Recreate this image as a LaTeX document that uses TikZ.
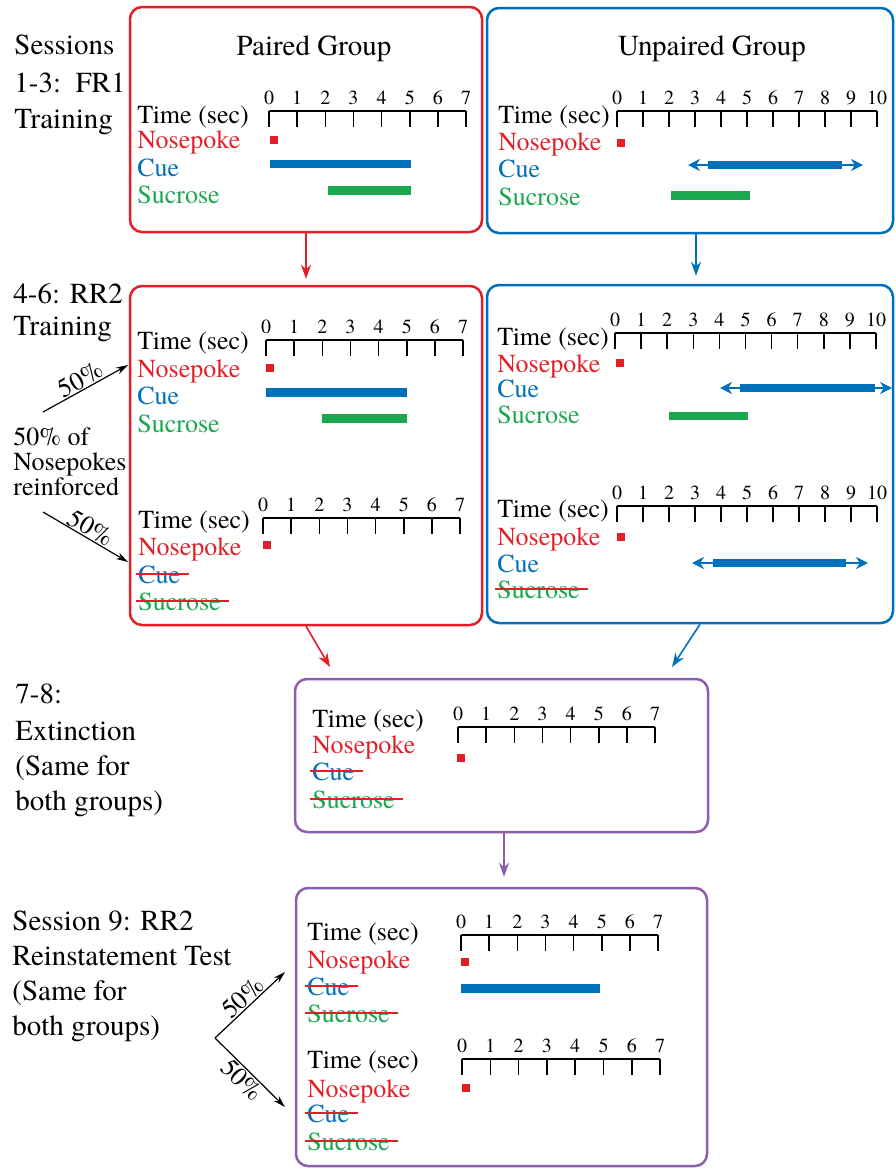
\documentclass[tikz,border=0pt]{standalone}
\usepackage{fontspec}
\IfFontExistsTF{texgyretermes-regular.otf}
  {\setmainfont{texgyretermes-regular.otf}}
  {\setmainfont{Liberation Serif}}
\usetikzlibrary{arrows.meta}

\definecolor{pokered}{RGB}{227,30,38}
\definecolor{cueblue}{RGB}{0,112,186}
\definecolor{sucgreen}{RGB}{25,168,78}
\definecolor{extpurple}{RGB}{142,94,172}

\begin{document}
\begin{tikzpicture}[
        x=0.5pt,
        y=-0.5pt,
        >={Stealth[length=7pt,width=5pt]},
        stage/.style={draw, line width=1.25pt, rounded corners=6pt, inner sep=0pt},
        head/.style={font=\fontsize{14.5}{17}\selectfont, inner sep=0pt, anchor=base west},
        lab/.style={font=\fontsize{13}{15}\selectfont, inner sep=0pt, anchor=base west},
        tick/.style={font=\fontsize{10}{12}\selectfont, inner sep=0pt, anchor=base},
        pct/.style={font=\fontsize{13}{15}\selectfont, inner sep=0.5pt},
        axisline/.style={line width=0.75pt},
        poke/.style={fill=pokered, minimum size=4pt, inner sep=0pt},
        bar/.style={line width=4.25pt},
        cueline/.style={line width=1pt, cueblue, {Stealth[length=6pt,width=6pt]}-{Stealth[length=6pt,width=6pt]}},
        strike/.style={draw=pokered, line width=0.7pt},
        flow/.style={->, line width=0.8pt},
        split/.style={->, line width=0.6pt, >={Stealth[length=6pt,width=3.5pt]}}
    ]
        \useasboundingbox (0,0) rectangle (895,1168);

        % stage boxes
        \node[stage, draw=pokered, minimum width=176pt, minimum height=112.5pt] (pairfr) at (306,119.5) {};
        \node[stage, draw=cueblue, minimum width=203pt, minimum height=112.5pt] (unpfr) at (690,120.5) {};
        \node[stage, draw=pokered, minimum width=176pt, minimum height=169.5pt] (pairrr) at (306,455.5) {};
        \node[stage, draw=cueblue, minimum width=203pt, minimum height=169pt] (unprr) at (690,454) {};
        \node[stage, draw=extpurple, minimum width=206.5pt, minimum height=76.5pt] (ext) at (501.5,755.5) {};
        \node[stage, draw=extpurple, minimum width=205.5pt, minimum height=139pt] (rein) at (501.5,1027) {};

        \node[head, anchor=base] (pairhd) at (314,55) {Paired Group};
        \node[head, anchor=base] (unphd) at (712,55) {Unpaired Group};

        % session texts on the left
        \node[head] (sess) at (14,54) {Sessions};
        \node[head] (fr1a) at (14,92) {1-3:\ \ FR1};
        \node[head] (fr1b) at (14,128) {Training};
        \node[head] (rr2a) at (13,303) {4-6: RR2};
        \node[head] (rr2b) at (13,335) {Training};
        \node[lab] (half1) at (13,445) {50\% of};
        \node[lab] (half2) at (13,470) {Nosepokes};
        \node[lab] (half3) at (13,495) {reinforced};
        \node[head] (ext1) at (15,703) {7-8:};
        \node[head] (ext2) at (15,740) {Extinction};
        \node[head] (ext3) at (15,775) {(Same for};
        \node[head] (ext4) at (15,810) {both groups)};
        \node[head] (rein1) at (12,930) {Session 9: RR2};
        \node[head] (rein2) at (12,965) {Reinstatement Test};
        \node[head] (rein3) at (12,1000) {(Same for};
        \node[head] (rein4) at (12,1035) {both groups)};

        % time axes
        \foreach \ax/\xo/\yo/\n/\dx in {pa/269/111/7/28.15, ua/617/111/10/26, pb/266/340/7/28.15,
                pc/263/518/7/28.15, ub/615/333/10/26.1, uc/617/506/10/26,
                ea/458/727/7/28.15, ra/461/935/7/28.15, rb/462/1059/7/28.3}{
            \draw[axisline] (\xo,\yo) -- ({\xo+\n*\dx},\yo);
            \foreach \k in {0,...,\n}{
                \draw[axisline] ({\xo+\k*\dx},\yo) -- ({\xo+\k*\dx},\yo+16);
                \node[tick] (\ax-\k) at ({\xo+\k*\dx},\yo-7) {\k};
            }
        }

        % row labels
        \foreach \tl/\lx/\ya/\yb/\yc/\yd in {pa/137/123/148/176/203, ua/498/123/150/177/205,
                pb/137/349/377/404/432, pc/138/528/555/583/610, ub/497/345/372/397/423,
                uc/497/517/545/572/598, ea/312/727/753/780/808, ra/307/940/968/995/1022,
                rb/307/1068/1097/1122/1150}{
            \node[lab] (\tl-time) at (\lx,\ya) {Time (sec)};
            \node[lab, text=pokered] (\tl-poke) at (\lx,\yb) {Nosepoke};
            \node[lab, text=cueblue] (\tl-cue) at (\lx,\yc) {Cue};
            \node[lab, text=sucgreen] (\tl-suc) at (\lx,\yd) {Sucrose};
        }
        \foreach \w in {pc-cue, pc-suc, uc-suc, ea-cue, ea-suc, ra-cue, ra-suc, rb-cue, rb-suc}
            \draw[strike] ([xshift=-1pt,yshift=4.5pt]\w.base west) -- ([xshift=4pt,yshift=4.5pt]\w.base east);

        % nosepokes
        \node[poke] (pa-sq) at (273.5,139.5) {};
        \node[poke] (ua-sq) at (621,142.5) {};
        \node[poke] (pb-sq) at (269.5,367.5) {};
        \node[poke] (pc-sq) at (266.5,545) {};
        \node[poke] (ub-sq) at (619.5,362.5) {};
        \node[poke] (uc-sq) at (621,537) {};
        \node[poke] (ea-sq) at (461,757.5) {};
        \node[poke] (ra-sq) at (465,962) {};
        \node[poke] (rb-sq) at (465.5,1088) {};

        % cue and sucrose periods
        \draw[bar, cueblue] (270,164) -- (411,164);
        \draw[bar, sucgreen] (328,190.5) -- (411,190.5);
        \draw[cueline] (688,165) -- (863,165);
        \draw[bar, cueblue] (708,165) -- (842,165);
        \draw[bar, sucgreen] (671,195.5) -- (750,195.5);
        \draw[bar, cueblue] (266,392.5) -- (407,392.5);
        \draw[bar, sucgreen] (322,418.5) -- (407,418.5);
        \draw[cueline] (720,388) -- (892,388);
        \draw[bar, cueblue] (740,388) -- (875,388);
        \draw[bar, sucgreen] (669,416) -- (748,416);
        \draw[cueline] (692,563) -- (868,563);
        \draw[bar, cueblue] (713,563) -- (846,563);
        \draw[bar, cueblue] (461,988.5) -- (600,988.5);

        % flow between stages
        \coordinate (extred) at (330,667);
        \coordinate (extblue) at (672,667);
        \draw[flow, pokered, shorten >=3pt] (pairfr.south) -- (pairrr.north);
        \draw[flow, cueblue, shorten >=4pt] ([xshift=3pt]unpfr.south) -- ([xshift=3pt]unprr.north);
        \draw[flow, pokered] (pairrr.south) -- (extred);
        \draw[flow, cueblue] ([xshift=5pt]unprr.south) -- (extblue);
        \draw[flow, extpurple, shorten >=5pt] ([xshift=1.25pt]ext.south) -- ([xshift=1.25pt]rein.north);

        % 50% splits
        \coordinate (rrfork1) at (43,412);
        \coordinate (rrtip1) at (128,365);
        \coordinate (rrfork2) at (43,512);
        \coordinate (rrtip2) at (128,562);
        \coordinate (reinfork) at (215,1038);
        \coordinate (reintip1) at (285,972);
        \coordinate (reintip2) at (285,1107);
        \draw[split] (rrfork1) -- node[pct, sloped, above] (rrpct1) {50\%} (rrtip1);
        \draw[split] (rrfork2) -- node[pct, sloped, above] (rrpct2) {50\%} (rrtip2);
        \draw[split] (reinfork) -- node[pct, sloped, above] (reinpct1) {50\%} (reintip1);
        \draw[split] (reinfork) -- node[pct, sloped, below] (reinpct2) {50\%} (reintip2);
    \end{tikzpicture}
\end{document}
